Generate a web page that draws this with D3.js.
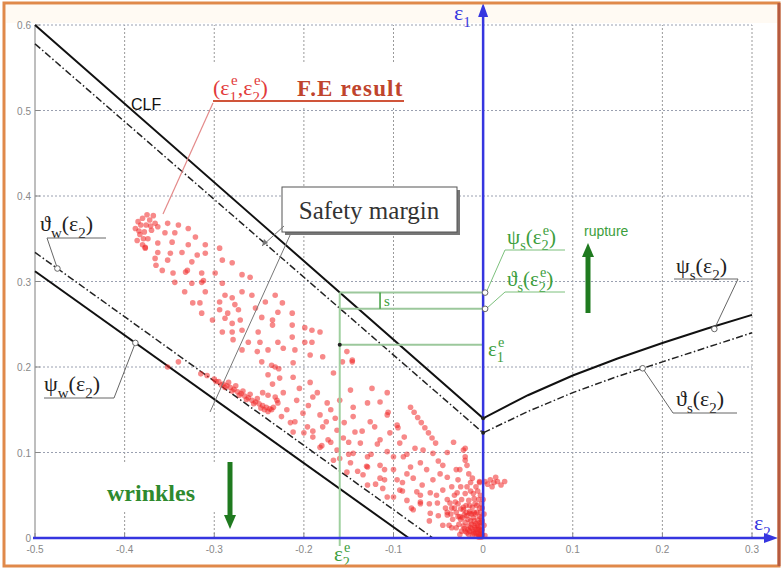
<!DOCTYPE html>
<html><head><meta charset="utf-8">
<script src="https://cdn.jsdelivr.net/npm/d3@7"></script>
<style>body{margin:0;background:#fff} svg{display:block}</style>
</head><body>
<svg id="chart" width="784" height="569"></svg>
<script>
var xTicks = [-0.5,-0.4,-0.3,-0.2,-0.1,0,0.1,0.2,0.3]
var xTickLabels = ["-0.5","-0.4","-0.3","-0.2","-0.1","0","0.1","0.2","0.3"]
var yTicks = [0,0.1,0.2,0.3,0.4,0.5,0.6]
var yTickLabels = ["0","0.1","0.2","0.3","0.4","0.5","0.6"]

// CLF (psi_s) and safety curve (theta_s)
var clfE2 = [-0.5,0,0.05,0.1,0.15,0.2,0.25,0.3]
var clfPsi = [0.6,0.14,0.167,0.19,0.21,0.228,0.245,0.261]
var clfTheta = [0.578,0.123,0.148,0.17,0.189,0.206,0.223,0.24]
// wrinkling limit (psi_w) and safety curve (theta_w)
var wrkPsiE2 = [-0.5,-0.083]
var wrkPsi = [0.312,0]
var wrkThetaE2 = [-0.5,-0.056]
var wrkTheta = [0.334,0]

var e2Star = -0.16
var e1Star = 0.226
var psiStar = 0.287
var thetaStar = 0.268

// F.E result points [e2, e1]
var fePoints = [
[-0.388,0.362],[-0.385,0.370],[-0.380,0.374],[-0.376,0.366],[-0.383,0.355],[-0.378,0.358],[-0.372,0.372],[-0.370,0.360],
[-0.386,0.348],[-0.374,0.350],[-0.368,0.377],[-0.380,0.343],[-0.366,0.368],[-0.377,0.340],
[-0.382,0.366],[-0.375,0.378],[-0.371,0.365],[-0.379,0.350],[-0.384,0.359],
[-0.363,0.364],[-0.352,0.368],[-0.340,0.366],[-0.329,0.362],[-0.355,0.357],[-0.344,0.357],[-0.321,0.352],[-0.363,0.345],
[-0.347,0.346],[-0.329,0.343],[-0.310,0.343],[-0.377,0.339],[-0.363,0.334],[-0.349,0.333],[-0.336,0.334],[-0.319,0.331],
[-0.310,0.333],[-0.294,0.339],[-0.366,0.327],[-0.352,0.325],[-0.365,0.319],[-0.325,0.323],[-0.291,0.325],[-0.358,0.313],
[-0.330,0.313],[-0.332,0.311],[-0.314,0.310],[-0.299,0.310],[-0.280,0.322],[-0.346,0.310],[-0.344,0.299],[-0.325,0.298],
[-0.314,0.299],[-0.312,0.301],[-0.291,0.298],[-0.269,0.308],[-0.260,0.305],[-0.333,0.288],[-0.310,0.288],[-0.288,0.284],
[-0.269,0.288],[-0.324,0.275],[-0.316,0.275],[-0.294,0.276],[-0.280,0.281],[-0.258,0.284],[-0.243,0.276],[-0.232,0.284],
[-0.277,0.273],[-0.314,0.263],[-0.294,0.267],[-0.285,0.263],[-0.273,0.267],[-0.254,0.269],[-0.224,0.275],[-0.302,0.255],
[-0.288,0.257],[-0.280,0.251],[-0.271,0.255],[-0.247,0.258],[-0.235,0.255],[-0.229,0.264],[-0.213,0.263],[-0.291,0.241],
[-0.280,0.241],[-0.269,0.243],[-0.251,0.241],[-0.235,0.249],[-0.213,0.249],[-0.279,0.232],[-0.262,0.229],[-0.249,0.229],
[-0.229,0.229],[-0.213,0.235],[-0.199,0.246],[-0.269,0.220],[-0.252,0.218],[-0.240,0.220],[-0.223,0.222],[-0.210,0.220],
[-0.199,0.229],[-0.247,0.206],[-0.232,0.200],[-0.236,0.202],[-0.228,0.198],[-0.340,0.206],[-0.352,0.200],[-0.212,0.205],
[-0.191,0.243],[-0.191,0.229],[-0.182,0.241],[-0.193,0.214],[-0.179,0.212],[-0.152,0.218],[-0.146,0.208],[-0.157,0.206],
[-0.300,0.186],[-0.295,0.183],[-0.290,0.180],[-0.286,0.178],[-0.282,0.176],[-0.278,0.174],[-0.274,0.171],[-0.270,0.169],
[-0.266,0.166],[-0.262,0.164],[-0.258,0.161],[-0.254,0.159],[-0.250,0.157],[-0.246,0.155],[-0.242,0.153],[-0.238,0.151],
[-0.284,0.182],[-0.276,0.178],[-0.268,0.172],[-0.260,0.168],[-0.252,0.163],[-0.315,0.192],[-0.308,0.190],[-0.232,0.165],
[-0.230,0.161],[-0.229,0.158],[-0.246,0.170],[-0.240,0.167],
[-0.298,0.183],[-0.292,0.179],[-0.288,0.176],[-0.280,0.172],[-0.272,0.167],[-0.264,0.162],[-0.256,0.157],[-0.248,0.152],
[-0.244,0.150],[-0.240,0.148],[-0.236,0.150],[-0.234,0.153],
[-0.240,0.191],[-0.227,0.187],[-0.212,0.188],[-0.193,0.182],[-0.167,0.193],[-0.146,0.206],[-0.148,0.173],[-0.124,0.175],
[-0.107,0.170],[-0.115,0.159],
[-0.223,0.170],[-0.208,0.161],[-0.190,0.165],[-0.174,0.158],[-0.160,0.161],[-0.145,0.153],[-0.129,0.158],
[-0.219,0.150],[-0.201,0.146],[-0.182,0.144],[-0.165,0.140],[-0.145,0.142],[-0.126,0.136],[-0.107,0.144],
[-0.215,0.135],[-0.196,0.130],[-0.179,0.130],[-0.163,0.126],[-0.143,0.124],[-0.121,0.130],[-0.095,0.129],
[-0.212,0.124],[-0.190,0.118],[-0.173,0.115],[-0.156,0.117],[-0.137,0.111],[-0.115,0.115],[-0.093,0.111],[-0.076,0.105],
[-0.182,0.106],[-0.163,0.103],[-0.145,0.099],[-0.129,0.095],[-0.107,0.101],[-0.089,0.095],[-0.067,0.103],[-0.056,0.099],
[-0.167,0.091],[-0.148,0.088],[-0.129,0.083],[-0.115,0.085],[-0.100,0.080],[-0.081,0.083],[-0.063,0.080],[-0.045,0.085],
[-0.022,0.103],[-0.020,0.091],
[-0.152,0.077],[-0.134,0.074],[-0.115,0.070],[-0.096,0.068],[-0.078,0.070],[-0.056,0.068],[-0.040,0.071],[-0.026,0.080],
[-0.129,0.062],[-0.112,0.058],[-0.093,0.056],[-0.074,0.054],[-0.059,0.053],[-0.045,0.056],[-0.029,0.053],[-0.018,0.060],
[-0.107,0.048],[-0.085,0.044],[-0.070,0.042],[-0.051,0.041],[-0.037,0.041],[-0.022,0.036],
[-0.078,0.033],[-0.059,0.029],[-0.040,0.027],[-0.026,0.025],[-0.015,0.029],
[-0.225,0.142],[-0.210,0.136],[-0.200,0.123],[-0.190,0.125],[-0.180,0.108],[-0.170,0.112],[-0.160,0.093],[-0.150,0.098],
[-0.140,0.078],[-0.130,0.084],[-0.120,0.063],[-0.110,0.068],[-0.100,0.048],[-0.090,0.055],[-0.080,0.035],[-0.070,0.040],
[-0.060,0.020],[-0.050,0.026],[-0.045,0.015],[-0.035,0.012],
[-0.235,0.180],[-0.205,0.175],[-0.185,0.170],[-0.170,0.150],[-0.155,0.135],[-0.135,0.125],[-0.118,0.110],[-0.100,0.095],
[-0.085,0.075],[-0.068,0.062],[-0.052,0.050],[-0.040,0.045],[-0.195,0.155],[-0.175,0.136],[-0.150,0.112],[-0.125,0.098],
[-0.110,0.080],[-0.090,0.065],[-0.070,0.050],[-0.060,0.040],[-0.042,0.035],[-0.032,0.050],[-0.025,0.060],[-0.028,0.068],
[-0.030,0.030],[-0.025,0.022],[-0.020,0.018],[-0.016,0.014],[-0.012,0.010],[-0.008,0.006],[-0.004,0.003],[-0.002,0.001],
[-0.028,0.040],[-0.022,0.033],[-0.018,0.026],[-0.014,0.020],[-0.010,0.015],[-0.006,0.010],[-0.003,0.005],[-0.024,0.045],
[-0.019,0.038],[-0.015,0.031],[-0.011,0.024],[-0.008,0.017],[-0.005,0.012],[-0.002,0.008],[-0.020,0.052],[-0.016,0.044],
[-0.012,0.036],[-0.009,0.028],[-0.006,0.021],[-0.003,0.014],[-0.001,0.004],[-0.014,0.055],[-0.010,0.046],[-0.007,0.038],
[-0.004,0.025],[-0.002,0.018],[-0.034,0.022],[-0.038,0.015],[-0.030,0.012],[-0.024,0.008],[-0.018,0.006],[-0.012,0.004],
[-0.007,0.002],[-0.040,0.030],[-0.035,0.035],[-0.027,0.016],[-0.021,0.011],[-0.015,0.008],[-0.010,0.005],[-0.005,0.001],
[-0.001,0.010],[-0.003,0.030],[-0.005,0.045],[-0.008,0.060],[-0.012,0.070],[-0.004,0.065],[0.002,0.003],[0.001,0.015],
[-0.026,0.004],[-0.022,0.014],[-0.017,0.010],[-0.013,0.016],[-0.009,0.012],[-0.006,0.006],[-0.004,0.018],[-0.007,0.030],
[-0.010,0.020],[-0.013,0.028],[-0.017,0.022],[-0.021,0.027],[-0.025,0.034],[-0.031,0.042],[-0.002,0.024],[-0.001,0.035],
[-0.003,0.050],[-0.006,0.055],[-0.009,0.040],[-0.011,0.052],[0.000,0.045],[0.001,0.028],
[-0.020,0.008],[-0.016,0.004],[-0.011,0.007],[-0.014,0.012],[-0.008,0.010],[-0.005,0.004],[-0.003,0.009],[-0.006,0.015],
[-0.010,0.030],[-0.015,0.038],[-0.019,0.030],[-0.023,0.024],[-0.028,0.025],[-0.032,0.035],[-0.036,0.028],[-0.001,0.020],
[-0.002,0.040],[-0.004,0.035],
[-0.020,0.095],[-0.018,0.085],[-0.016,0.075],[-0.014,0.065],
[-0.081,0.153],[-0.077,0.147],[-0.073,0.141],[-0.069,0.135],[-0.065,0.129],[-0.061,0.123],[-0.057,0.117],[-0.053,0.111],
[-0.033,0.112],[-0.020,0.105],
[-0.106,0.147],[-0.096,0.132],[-0.104,0.123],[-0.088,0.118],[-0.085,0.098],[-0.070,0.088],[-0.050,0.090],[-0.040,0.100],
[-0.030,0.080],[-0.035,0.060],[-0.048,0.075],
[0.008,0.068],[0.012,0.065],[0.016,0.066],[0.020,0.062],[0.010,0.060],[0.014,0.071],[0.005,0.063],[0.024,0.066],
[0.002,0.066],[-0.004,0.066]
]

var svg = d3.select("#chart")
var x = d3.scaleLinear().domain([-0.5,0.3]).range([35,752])
var y = d3.scaleLinear().domain([0,0.6]).range([538,25])
var serif = "Liberation Serif, DejaVu Serif, serif"
var sans = "Liberation Sans, Arial, sans-serif"
var green = "#3c9e3c", dkgreen = "#1f7a1f", blue = "#3636e0"

svg.append("rect").attr("width",784).attr("height",569).attr("fill","#fff")
svg.append("rect").attr("x",6).attr("y",5).attr("width",771).attr("height",18).attr("fill","#fffaf3")

// grid
svg.selectAll(".vgrid").data(xTicks.filter(function(d){return d!=0 && d!=-0.5})).enter().append("line")
    .attr("class","vgrid")
    .attr("x1",function(d){return x(d)}).attr("x2",function(d){return x(d)})
    .attr("y1",y(0)).attr("y2",y(0.6))
    .attr("stroke","#9a9a9a").attr("stroke-dasharray","2,2")
svg.selectAll(".hgrid").data(yTicks.filter(function(d){return d!=0})).enter().append("line")
    .attr("class","hgrid")
    .attr("x1",x(-0.5)).attr("x2",x(0.3))
    .attr("y1",function(d){return y(d)}).attr("y2",function(d){return y(d)})
    .attr("stroke","#9aa0b0").attr("stroke-dasharray","2,2")
svg.append("line").attr("x1",x(-0.5)).attr("x2",x(-0.5)).attr("y1",y(0)).attr("y2",y(0.6))
    .attr("stroke","#a8a8a8").attr("stroke-width",1.5)

// ticks
svg.selectAll(".xtick").data(xTicks).enter().append("line")
    .attr("x1",function(d){return x(d)}).attr("x2",function(d){return x(d)})
    .attr("y1",y(0)).attr("y2",y(0)-5).attr("stroke","#888")
svg.selectAll(".ytick").data(yTicks).enter().append("line")
    .attr("x1",x(-0.5)).attr("x2",x(-0.5)+5)
    .attr("y1",function(d){return y(d)}).attr("y2",function(d){return y(d)}).attr("stroke","#888")

// white patches behind labels
svg.append("rect").attr("x",100).attr("y",462).attr("width",130).attr("height",50).attr("fill","#fff")
svg.append("rect").attr("x",212).attr("y",64).attr("width",200).attr("height",44).attr("fill","#fff")

// tick labels
svg.selectAll(".xlab").data(xTicks).enter().append("text")
    .text(function(d,i){return xTickLabels[i]})
    .attr("x",function(d){return x(d)}).attr("y",553)
    .attr("text-anchor","middle").attr("font-size",10).attr("font-family",sans).attr("fill","#888")
svg.selectAll(".ylab").data(yTicks).enter().append("text")
    .text(function(d,i){return yTickLabels[i]})
    .attr("x",31).attr("y",function(d){return y(d)+4})
    .attr("text-anchor","end").attr("font-size",10).attr("font-family",sans).attr("fill","#888")

// curves
var line = d3.line().x(function(d){return x(d[0])}).y(function(d){return y(d[1])})
function zip(a,b){return a.map(function(v,i){return [v,b[i]]})}
var dashDot = "7,2.5,1.5,2.5"
svg.append("path").attr("d",line(zip(clfE2,clfPsi))).attr("fill","none").attr("stroke","#111").attr("stroke-width",2)
svg.append("path").attr("d",line(zip(clfE2,clfTheta))).attr("fill","none").attr("stroke","#222").attr("stroke-width",1.5).attr("stroke-dasharray",dashDot)
svg.append("path").attr("d",line(zip(wrkPsiE2,wrkPsi))).attr("fill","none").attr("stroke","#111").attr("stroke-width",2)
svg.append("path").attr("d",line(zip(wrkThetaE2,wrkTheta))).attr("fill","none").attr("stroke","#222").attr("stroke-width",1.5).attr("stroke-dasharray",dashDot)

// F.E points
svg.selectAll(".fe").data(fePoints).enter().append("circle")
    .attr("class","fe")
    .attr("cx",function(d){return x(d[0])}).attr("cy",function(d){return y(d[1])})
    .attr("r",2.8).attr("fill","#f02828").attr("fill-opacity",0.55)

// green construction lines
svg.append("line").attr("x1",x(e2Star)).attr("x2",x(e2Star)).attr("y1",y(psiStar)).attr("y2",546)
    .attr("stroke","#9fd09f").attr("stroke-width",2)
;[psiStar,thetaStar,e1Star].forEach(function(v){
    svg.append("line").attr("x1",x(e2Star)).attr("x2",x(0)).attr("y1",y(v)).attr("y2",y(v))
        .attr("stroke","#9cc89c").attr("stroke-width",2)
})
svg.append("circle").attr("cx",x(e2Star)).attr("cy",y(e1Star)).attr("r",2).attr("fill","#222")
// s marker
var sx = x(-0.115)
svg.append("line").attr("x1",sx).attr("x2",sx).attr("y1",y(psiStar)).attr("y2",y(thetaStar)).attr("stroke",green).attr("stroke-width",1.5)
svg.append("text").text("s").attr("x",sx+4).attr("y",y(thetaStar)-3).attr("font-size",15).attr("font-family",serif).attr("fill",green)

// axes
svg.append("line").attr("x1",x(-0.5)-2).attr("x2",770).attr("y1",y(0)).attr("y2",y(0)).attr("stroke",blue).attr("stroke-width",2.5)
svg.append("path").attr("d","M778,"+y(0)+"L764,"+(y(0)-5)+"L764,"+(y(0)+5)+"Z").attr("fill",blue)
svg.append("line").attr("x1",x(0)).attr("x2",x(0)).attr("y1",y(0)).attr("y2",14).attr("stroke",blue).attr("stroke-width",2.5)
svg.append("path").attr("d","M"+x(0)+",3L"+(x(0)-5)+",17L"+(x(0)+5)+",17Z").attr("fill",blue)

function rich(px,py,parts,size,color,family,weight){
    var t = svg.append("text").attr("x",px).attr("y",py).attr("font-size",size)
        .attr("fill",color).attr("font-family",family||serif)
    if(weight) t.attr("font-weight",weight)
    var cur = 0
    parts.forEach(function(p){
        var s = p[1]=="sub" ? size*0.3 : p[1]=="sup" ? -size*0.45 : 0
        var ts = t.append("tspan").text(p[0]).attr("dy",s-cur)
        if(p[1]) ts.attr("font-size",size*0.68)
        if(p[2]) ts.attr("dx",p[2])
        cur = s
    })
    return t
}
rich(454,20,[["ε"],["1","sub"]],22,blue)
rich(754,530,[["ε"],["2","sub"]],22,blue)

// dots on axis
svg.append("circle").attr("cx",x(0)).attr("cy",y(clfPsi[1])).attr("r",2).attr("fill","#222")
svg.append("circle").attr("cx",x(0)).attr("cy",y(clfTheta[1])).attr("r",2).attr("fill","#222")

// black curve labels
function leader(pts,color,w){
    svg.append("path").attr("d",d3.line()(pts)).attr("fill","none").attr("stroke",color||"#666").attr("stroke-width",w||1)
}
function ring(px,py){
    svg.append("circle").attr("cx",px).attr("cy",py).attr("r",2.8).attr("fill","#fff").attr("stroke","#666")
}
rich(40,231,[["ϑ"],["w","sub"],["(ε"],["2","sub"],[")"]],22,"#222")
var twx = -0.475, twy = 0.334 - 0.334/0.444*(twx+0.5)
leader([[106,238],[47,238],[x(twx),y(twy)]])
ring(x(twx),y(twy))

rich(44,391,[["ψ"],["w","sub"],["(ε"],["2","sub"],[")"]],22,"#222")
var pwx = -0.388, pwy = 0.312 - 0.312/0.417*(pwx+0.5)
leader([[44,398],[114,398],[x(pwx),y(pwy)]])
ring(x(pwx),y(pwy))

rich(676,273,[["ψ"],["s","sub"],["(ε"],["2","sub"],[")"]],22,"#222")
leader([[674,279],[738,279],[x(0.258),y(0.2445)]])
ring(x(0.258),y(0.2445))

rich(676,406,[["ϑ"],["s","sub"],["(ε"],["2","sub"],[")"]],22,"#222")
leader([[737,413],[673,413],[x(0.178),y(0.1985)]])
ring(x(0.178),y(0.1985))

svg.append("text").text("CLF").attr("x",131).attr("y",110).attr("font-size",16).attr("font-family",sans).attr("fill","#111")

// F.E result label
rich(213,95,[["(ε"],["1","sub"],["e","sup",-6],[",ε"],["2","sub"],["e","sup",-6],[")"]],22,"#e23a3a")
svg.append("text").text("F.E result").attr("x",297).attr("y",96).attr("font-size",23).attr("font-weight","bold")
    .attr("letter-spacing",1.2).attr("font-family",serif).attr("fill","#c0442c")
leader([[213,101],[404,101]],"#d0553a",2)
leader([[213,103],[163,214]],"#e48a8a",1.2)

// Safety margin box
svg.append("rect").attr("x",285).attr("y",190).attr("width",175).attr("height",45).attr("fill","#777")
svg.append("rect").attr("x",282).attr("y",187).attr("width",175).attr("height",45).attr("fill","#fff").attr("stroke","#555")
svg.append("text").text("Safety margin").attr("x",369).attr("y",219).attr("text-anchor","middle")
    .attr("font-size",25).attr("font-family",serif).attr("fill","#333")
leader([[284,226],[262,246]],"#777")
svg.append("path").attr("d","M262,246L264,239L268,243Z").attr("fill","#777")
leader([[291,233],[210,412]],"#777")

// green labels
rich(507,244,[["ψ"],["s","sub"],["(ε"],["2","sub"],["e","sup",-6],[")"]],21,green)
rich(507,286,[["ϑ"],["s","sub"],["(ε"],["2","sub"],["e","sup",-6],[")"]],21,green)
leader([[x(0)+3,y(psiStar)],[505,250],[565,250]],"#7cc07c")
leader([[x(0)+3,y(thetaStar)],[505,292],[565,292]],"#7cc07c")
ring(x(0)+2,y(psiStar)); ring(x(0)+2,y(thetaStar))
rich(488,356,[["ε"],["1","sub"],["e","sup",-6]],21,green)
rich(334,561,[["ε"],["2","sub"],["e","sup",-6]],21,green)

svg.append("text").text("rupture").attr("x",584).attr("y",236).attr("font-size",14).attr("font-family",sans).attr("fill",green)
svg.append("line").attr("x1",588).attr("x2",588).attr("y1",313).attr("y2",254).attr("stroke",dkgreen).attr("stroke-width",5)
svg.append("path").attr("d","M588,243L582,257L594,257Z").attr("fill",dkgreen)

svg.append("text").text("wrinkles").attr("x",107).attr("y",501).attr("font-size",24).attr("font-weight","bold")
    .attr("font-family",serif).attr("fill","#2e8a2e")
svg.append("line").attr("x1",230).attr("x2",230).attr("y1",462).attr("y2",517).attr("stroke",dkgreen).attr("stroke-width",5)
svg.append("path").attr("d","M230,529L224,515L236,515Z").attr("fill",dkgreen)

// frame
svg.append("rect").attr("x",4).attr("y",3).attr("width",775).attr("height",563).attr("fill","none")
    .attr("stroke","#e0894a").attr("stroke-width",3)
svg.append("line").attr("x1",779).attr("x2",779).attr("y1",3).attr("y2",566).attr("stroke","#b55a40").attr("stroke-width",3)
</script>
</body></html>
